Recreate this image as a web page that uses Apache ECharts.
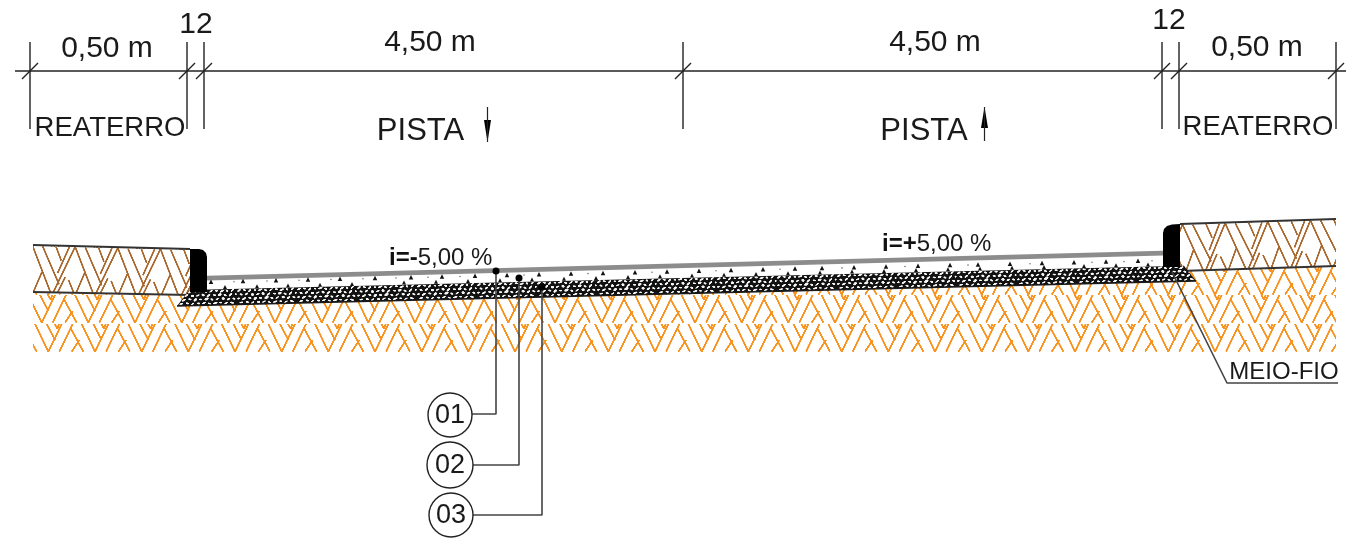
<!DOCTYPE html>
<html><head><meta charset="utf-8">
<style>html,body{margin:0;padding:0;background:#fff}#c{width:1348px;height:541px}</style>
<script src="https://cdn.jsdelivr.net/npm/echarts@6/dist/echarts.min.js"></script>
</head><body><div id="c"></div>
<script>
// ---- drawing data, in the drawing's own x/y units ----
const dimensionLine = [[15,71],[1346,71]];
const extensionX = [30,187,204,683,1162,1179,1336];
const extensionY = [42,129];
const labels = [
  ['0,50 m',107,49],['12',196,25],['4,50 m',430,43],['4,50 m',935,43],['12',1169,21],['0,50 m',1257,48]
];
const areaLabels = [['REATERRO',110,128],['REATERRO',1258,127],['PISTA',420.5,131],['PISTA',924,131]];
const slopes = [['i=-','5,00 %',389,258],['i=+','5,00 %',882,244]];
const calloutLabels = [['MEIO-FIO',1284,372]];
const balloons = [['01',450,415,22],['02',450,465,23],['03',451,515,22]];
const leader1 = [[496,271],[496,414],[472,414]];
const leader2 = [[519,278],[519,465],[473,465]];
const leader3 = [[542,287],[542,515],[473,515]];
const leaderDots = [[496,271],[519,278],[542,287]];
const curbLeader = [[1172,272],[1227,383],[1338,383]];
const arrowDown = [[487.5,107],[487.5,142]];
const arrowDownHead = [[484,120],[491,120],[487.5,142]];
const arrowUp = [[984.5,141],[984.5,107]];
const arrowUpHead = [[981,128],[988,128],[984.5,107]];
const soilArea = [[33,293],[190,295],[177,306],[1196,281],[1180,271],[1336,266],[1336,352],[33,352]];
const fillLeft = [[33,245],[190,249],[190,295],[33,292]];
const fillRight = [[1180,224],[1336,219],[1336,266],[1180,271]];
const fillLeftTop = [[33,245],[190,249]];
const fillLeftBase = [[33,292],[190,295]];
const fillRightTop = [[1180,224],[1336,219]];
const fillRightBase = [[1180,271],[1336,266]];
const gravelLayer = [[177,306],[188,292],[190,290],[1184,265.8],[1196,281]];
const gravelBase = [[177,306],[1196,281]];
const concreteLayer = [[207,280],[1163,255],[1163,268],[207,292]];
const asphaltLayer = [[207,275.8],[1163,250.8],[1163,255.5],[207,280.5]];
const curbLeft = [[190,249],[199,249],[203,250],[206,253],[207,257],[207,292],[190,292]];
const curbRight = [[1180,224],[1172,224.5],[1167,226],[1164,229],[1163,233],[1163,267],[1180,267]];
const aggregateUpper = [[211,281.7],[243,281],[276,280.2],[308,279.5],[340,278.8],[375,278],[411,277.2],[442,276.5],[475,275.8],[507,275],[539,274.3],[571,273.6],[603,272.9],[635,272.2],[667,271.4],[699,270.7],[731,270],[763,269.3],[795,268.6],[822,268],[854,267.2],[886,266.5],[918,265.8],[950,265.1],[978,264.4],[1010,263.7],[1042,263],[1074,262.3],[1106,261.6],[1138,260.8]];
const aggregateLower = [[225,287],[257,286.2],[288,285.5],[320,284.7],[352,283.9],[404,282.6],[436,281.8],[468,281],[500,280.3],[532,279.5],[564,278.7],[596,277.9],[628,277.1],[660,276.3],[692,275.6],[724,274.8],[756,274],[788,273.2],[820,272.4],[852,271.6],[884,270.9],[916,270.1],[948,269.3],[980,268.5],[1012,267.7],[1044,266.9],[1084,266],[1116,265.2],[1148,264.4]];
const aggregateSpecks = [[234,281.8],[267,281],[299,280.2],[331,279.5],[363,278.7],[396,278],[428,277.2],[460,276.5],[524,275],[588,273.6],[652,272.2],[716,270.7],[780,269.3],[842,267.9],[905,266.5],[968,265.1],[1030,263.7],[1092,262.3],[1124,261.6],[1152,260.8]];

// ---- hatch tiles (texture strokes, tile units are 1/3 px) ----
const soilStrokes = [[105,0,145,83],[145,83,185,0],[178,83,218,0],[140,0,165,48],[164,0,172,14],[172,14,177,0],[212,13,250,83],[215,83,238,48]];
const fillStrokes = [[8,0,66,128],[38,0,90,103],[135,0,72,128],[78,0,95,38],[118,0,85,72],[38,70,14,125],[108,83,85,128],[118,90,136,128]];
const pebbles = [[6,6,6,3,-0.5],[22,5,5,2.5,0.3],[38,7,6,3,-0.8],[54,6,4,2.5,0.2],[70,5,7,3,-0.3],[86,7,5,3,0.4],[102,6,6,2.5,-0.6],[118,5,5,3,0.1],[134,7,7,3,-0.4],[150,6,4,3,0.5],[166,5,6,2.5,-0.7],
  [12,18,5,3,0.4],[28,17,6,3,-0.6],[46,19,5,4,0.1],[62,18,6,2.5,-0.4],[78,17,5,4,0.5],[94,19,7,3,-0.7],[112,18,5,2.5,0.2],[128,17,6,4,-0.3],[144,19,5,3,0.4],[160,18,7,3,-0.8],[176,17,3,3,0.2],
  [4,30,4,3,-0.3],[20,31,7,3,-0.5],[38,29,5,3,0.3],[54,31,6,4,-0.7],[70,30,5,2.5,0.1],[88,29,7,4,-0.4],[104,31,5,3,0.5],[120,30,6,2.5,-0.6],[138,29,5,4,0.2],[154,31,6,3,-0.5],[170,30,5,3,0.4],
  [12,42,6,2.5,-0.2],[30,41,5,3,0.3],[46,43,6,2.5,-0.6],[64,42,5,3,0.2],[80,41,6,2.5,-0.4],[96,43,5,2.5,0.4],[114,42,7,3,-0.3],[130,41,4,2.5,0.1],[146,43,6,2.5,-0.5],[164,42,6,3,0.3]];

const FONT = '"Liberation Sans", Arial, sans-serif';

function strokeWrapped(ctx, s, w, ox, oy) {
  for (const dx of [-2*w,-w,0,w,2*w]) {
    ctx.beginPath();
    ctx.moveTo(s[0]+dx+ox, s[1]+oy);
    ctx.lineTo(s[2]+dx+ox, s[3]+oy);
    ctx.stroke();
  }
}
function makeCanvas(w,h){const c=document.createElement('canvas');c.width=w;c.height=h;return c;}
function soilTile(){
  const c=makeCanvas(140,171),x=c.getContext('2d');
  x.strokeStyle='#f7931e';x.lineWidth=5.4;
  x.save();x.beginPath();x.rect(0,0,140,84);x.clip();
  soilStrokes.forEach(s=>strokeWrapped(x,s,140,0,0));x.restore();
  x.save();x.beginPath();x.rect(0,87,140,84);x.clip();
  soilStrokes.forEach(s=>strokeWrapped(x,s,140,20,87));x.restore();
  return c;
}
function fillTile(){
  const c=makeCanvas(128,140),x=c.getContext('2d');
  x.strokeStyle='#a9682d';x.lineWidth=5;
  x.save();x.transform(1,0,0,140/128,0,0);
  fillStrokes.forEach(s=>strokeWrapped(x,s,128,0,0));x.restore();
  return c;
}
function gravelTile(){
  const c=makeCanvas(180,48),x=c.getContext('2d');
  x.fillStyle='#111';x.fillRect(0,0,180,48);x.fillStyle='#f4f4f4';
  pebbles.forEach(p=>{x.beginPath();x.ellipse(p[0],p[1],p[2],p[3],p[4],0,Math.PI*2);x.fill();});
  return c;
}
const soilFill   = {image:soilTile(),  repeat:'repeat',x:600,y:295,scaleX:1/3,scaleY:1/3};
const leftFill   = {image:fillTile(),  repeat:'repeat',x:30,y:246,rotation:0.0255,scaleX:1/3,scaleY:1/3};
const rightFill  = {image:fillTile(),  repeat:'repeat',x:1180,y:225,rotation:-0.033,scaleX:1/3,scaleY:1/3};
const gravelFill = {image:gravelTile(),repeat:'repeat',x:177,y:290,rotation:-0.0245,scaleX:1/3,scaleY:1/3};

function polygon(name,pts,fill,z){
  return {type:'custom',name,silent:true,z,coordinateSystem:'cartesian2d',data:[pts[0]],
    renderItem:(p,api)=>({type:'polygon',shape:{points:pts.map(q=>api.coord(q))},style:{fill}})};
}
function line(name,pts,color,width,z){
  return {type:'line',name,silent:true,z,data:pts,showSymbol:false,symbol:'none',connectNulls:false,
    lineStyle:{color,width,cap:'butt'},itemStyle:{color}};
}
function texts(name,rows,size,z,extra){
  return {type:'custom',name,silent:true,z,coordinateSystem:'cartesian2d',
    data:rows.map(r=>[r[1],r[2],r[0]]),
    renderItem:(p,api)=>{const c=api.coord([api.value(0),api.value(1)]);
      return {type:'text',x:c[0],y:c[1],style:Object.assign({text:rows[p.dataIndex][0],fill:'#1a1a1a',
        font:size+'px '+FONT,textAlign:'center',textVerticalAlign:'middle'},extra||{})};},
    encode:{x:0,y:1}};
}
function marks(name,pts,symbol,size,color,z){
  return {type:'scatter',name,silent:true,z,data:pts,symbol,symbolSize:size,itemStyle:{color,opacity:1}};
}
const extensionData=[];const slashData=[];
extensionX.forEach(x=>{
  extensionData.push([x,extensionY[0]],[x,extensionY[1]],[null,null]);
  slashData.push([x-8,79],[x+8,63],[null,null]);
});

const series=[
  polygon('soil',soilArea,soilFill,1),
  polygon('fillLeft',fillLeft,leftFill,2),
  polygon('fillRight',fillRight,rightFill,2),
  line('fillLeftTop',fillLeftTop,'#333',2,3),
  line('fillLeftBase',fillLeftBase,'#333',2,3),
  line('fillRightTop',fillRightTop,'#333',2,3),
  line('fillRightBase',fillRightBase,'#333',2,3),
  polygon('concrete',concreteLayer,'#ffffff',4),
  polygon('gravel',gravelLayer,gravelFill,5),
  line('gravelBase',gravelBase,'#1a1a1a',1.4,6),
  polygon('asphalt',asphaltLayer,'#8c8c8c',6),
  marks('aggregateUpper',aggregateUpper,'triangle',4.5,'#111',7),
  marks('aggregateLower',aggregateLower,'triangle',4,'#111',7),
  marks('aggregateSpecks',aggregateSpecks,'circle',1.6,'#777',7),
  polygon('curbLeft',curbLeft,'#000',8),
  polygon('curbRight',curbRight,'#000',8),
  line('dimension',dimensionLine,'#222',1.4,9),
  line('extensions',extensionData,'#222',1.4,9),
  line('slashes',slashData,'#222',1.4,9),
  line('leader1',leader1,'#444',1.6,9),
  line('leader2',leader2,'#444',1.6,9),
  line('leader3',leader3,'#444',1.6,9),
  line('curbLeader',curbLeader,'#444',1.6,9),
  marks('leaderDots',leaderDots,'circle',7,'#000',10),
  line('arrowDown',arrowDown,'#222',1.2,9),
  polygon('arrowDownHead',arrowDownHead,'#000',9),
  line('arrowUp',arrowUp,'#222',1.2,9),
  polygon('arrowUpHead',arrowUpHead,'#000',9),
  texts('dims',labels,30,11),
  texts('areas',areaLabels.slice(0,2),27.5,11),
  texts('pista',areaLabels.slice(2),31,11),
  texts('callout',calloutLabels,24,11),
  {type:'custom',name:'slopes',silent:true,z:11,coordinateSystem:'cartesian2d',data:slopes.map(s=>[s[2],s[3]]),
    renderItem:(p,api)=>{const s=slopes[p.dataIndex],c=api.coord([s[2],s[3]]);
      return {type:'text',x:c[0],y:c[1],style:{text:'{b|'+s[0]+'}{r|'+s[1]+'}',textAlign:'left',textVerticalAlign:'middle',
        rich:{b:{font:'bold 24px '+FONT,fill:'#111'},r:{font:'24px '+FONT,fill:'#1a1a1a'}}}};}},
  {type:'custom',name:'balloons',silent:true,z:11,coordinateSystem:'cartesian2d',data:balloons.map(b=>[b[1],b[2]]),
    renderItem:(p,api)=>{const b=balloons[p.dataIndex],c=api.coord([b[1],b[2]]),
        r=Math.abs(api.size([b[3],0])[0]);
      return {type:'group',children:[
        {type:'circle',shape:{cx:c[0],cy:c[1],r},style:{fill:'#fff',stroke:'#222',lineWidth:1.4}},
        {type:'text',x:c[0],y:c[1]+1,style:{text:b[0],fill:'#1a1a1a',font:'27px '+FONT,textAlign:'center',textVerticalAlign:'middle'}}
      ]};}}
];

const chart=echarts.init(document.getElementById('c'),null,{renderer:'canvas',width:1348,height:541});
chart.setOption({
  animation:false,backgroundColor:'#fff',
  grid:{left:0,right:0,top:0,bottom:0,containLabel:false},
  xAxis:{type:'value',min:0,max:1348,show:false},
  yAxis:{type:'value',min:0,max:541,inverse:true,show:false},
  tooltip:{show:false},legend:{show:false},
  series
});
</script></body></html>
